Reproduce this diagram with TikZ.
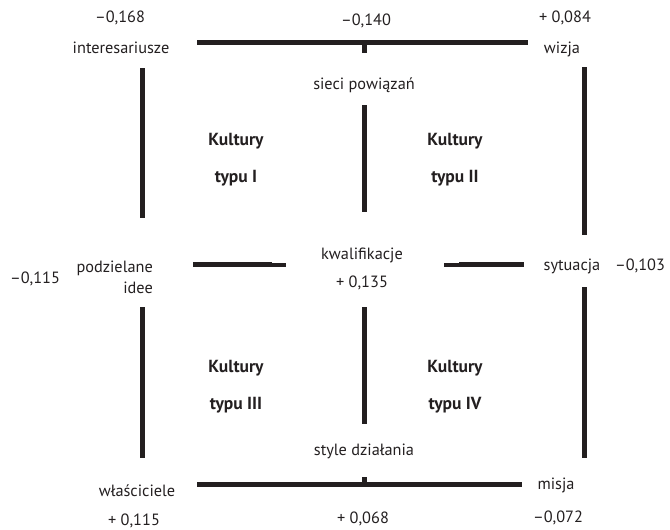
\documentclass[tikz,border=0pt]{standalone}
\usepackage{fontspec}
\setmainfont{PT Sans}
\definecolor{ink}{HTML}{231F20}

\begin{document}
\begin{tikzpicture}
[
x=1pt, y=-1pt,
every node/.style={text=ink, inner sep=0pt, anchor=base, font=\fontsize{16.3}{19}\selectfont},
kult/.style={font=\fontsize{17.5}{20}\selectfont\bfseries},
bar/.style={draw=ink, line width=5pt},
thinbar/.style={draw=ink, line width=3.3pt}
]
\useasboundingbox (0,0) rectangle (670,530);

% corners
\node (v168) at (120,23) {–0,168};
\node (inter) at (121,53) {interesariusze};
\node (v084) at (565,22) {+ 0,084};
\node (wizja) at (562,53) {wizja};
\node (wlasc) at (137,496) {właściciele};
\node (v115b) at (134,525) {+ 0,115};
\node (misja) at (556,489) {misja};
\node (v072) at (558,522) {–0,072};

% middle of the sides
\node (v140) at (366,25) {–0,140};
\node (sieci) at (364,89) {sieci powiązań};
\node (v115a) at (35,283) {–0,115};
\node[anchor=base east] (podz) at (153,272) {podzielane};
\node[anchor=base east] (idee) at (153,293) {idee};
\node (kwal) at (362,259) {kwalifikacje};
\node (v135) at (362,287) {+ 0,135};
\node (syt) at (572,270) {sytuacja};
\node (v103) at (640,270) {–0,103};
\node (style) at (364,455) {style działania};
\node (v068) at (363,523) {+ 0,068};

% quadrants
\node[kult] (k1) at (236,145) {Kultury};
\node[kult] (t1) at (236,182) {typu I};
\node[kult] (k2) at (455,145) {Kultury};
\node[kult] (t2) at (455,182) {typu II};
\node[kult] (k3) at (236,372) {Kultury};
\node[kult] (t3) at (236,409) {typu III};
\node[kult] (k4) at (455,372) {Kultury};
\node[kult] (t4) at (455,409) {typu IV};

% bars
\draw[bar] (197,42.5) -- (528,42.5);
\draw[bar] (364,42.5) -- (364,53);
\draw[bar] (197,484) -- (522,484);
\draw[bar] (364,484) -- (364,477);
\draw[bar] (142,68) -- (142,218);
\draw[bar] (142,307) -- (142,458);
\draw[bar] (364,105) -- (364,212);
\draw[bar] (364,307) -- (364,424);
\draw[bar] (584,67) -- (584,235);
\draw[bar] (584,287) -- (584,458);
\draw[bar] (193,264.3) -- (272,264.3);
\draw[thinbar] (272,265) -- (286,265);
\draw[thinbar] (444,265) -- (459,265);
\draw[bar] (459,264.3) -- (524,264.3);
\end{tikzpicture}
\end{document}
